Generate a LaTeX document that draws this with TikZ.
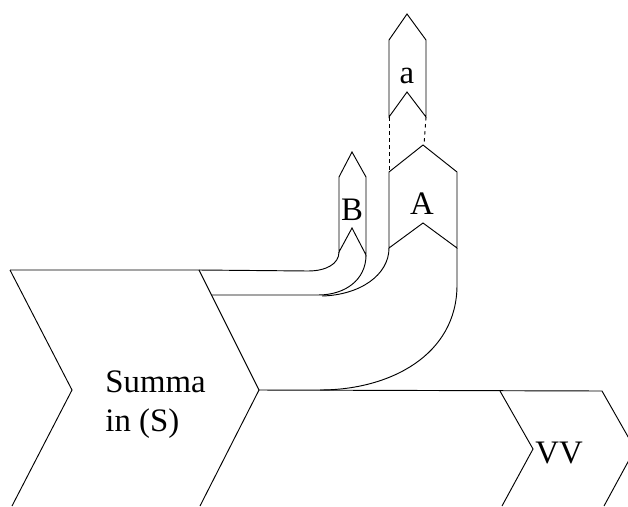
\documentclass[tikz,border=0pt]{standalone}
\usepackage{fontspec}
\setmainfont{Liberation Serif}
\usepackage{tikz}

\begin{document}
\begin{tikzpicture}[x=0.03cm, y=-0.03cm, line width=0.8pt, line join=miter,
    lbl/.style={font=\fontsize{28}{33}\selectfont, inner sep=0pt}]
  \useasboundingbox (0,0) rectangle (628,506);
  \clip (0,0) rectangle (628,506);

  % Summa chevron (left edge and front edge)
  \draw (10,270) -- (72,390) -- (12,506);
  \draw (10,270) -- (199,270) -- (259,390) -- (200,506);
  \node[lbl, anchor=base west, align=left] (summa) at (105,431) {Summa\\in (S)};

  % VV chevron, running off the right edge
  \draw (259,390) -- (602,391) -- (635,449) -- (604,506);
  \draw (500,391) -- (533,449) -- (502,506);
  \node[lbl, anchor=base west] (vv) at (535,463) {VV};

  % B branch
  \draw (339,252) -- (339,177) -- (352,152) -- (366,177) -- (366,255) -- (352,228) -- cycle;
  \node[lbl, anchor=base] (b) at (352,220) {B};

  % A branch
  \draw (389,248) -- (389,172) -- (423,145) -- (457,172) -- (457,248) -- (423,223) -- cycle;
  \node[lbl, anchor=base] (A) at (422,214) {A};

  % a on top of A
  \draw (389,117) -- (389,40) -- (407,14) -- (426,40) -- (426,117) -- (407,92) -- cycle;
  \node[lbl, anchor=base] (a) at (407,83) {a};
  \draw[dashed] (389,117) -- (389,172);
  \draw[dashed] (426,117) -- (424,145);

  % pipes bending up from S
  \draw (199,270) -- (308,271) .. controls (326,271) and (339,264) .. (339,252);
  \draw (212,295) -- (318,295) .. controls (345,295) and (366,280) .. (366,255);
  \draw (322,296) .. controls (360,295) and (389,275) .. (389,248);
  \draw (457,248) -- (457,285) .. controls (457,355) and (390,390) .. (320,390);
\end{tikzpicture}
\end{document}
